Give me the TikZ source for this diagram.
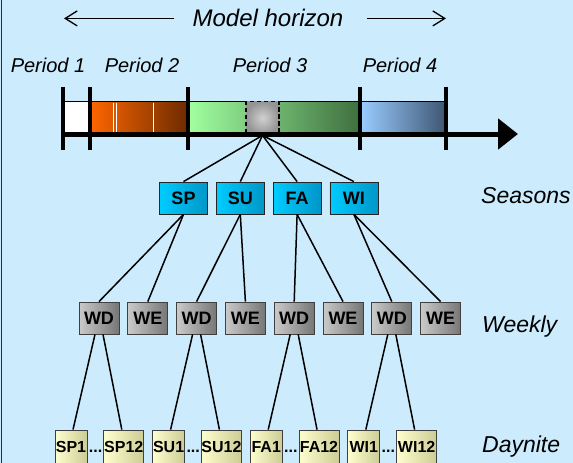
\documentclass[tikz,border=0pt]{standalone}
\usepackage{fontspec}
\setmainfont{Liberation Sans}
\usetikzlibrary{positioning,arrows.meta}

\definecolor{skyback}{RGB}{204,235,252}
\definecolor{frameline}{RGB}{30,50,70}
\definecolor{seasonleft}{RGB}{0,204,255}
\definecolor{seasonright}{RGB}{0,150,200}
\definecolor{weekleft}{RGB}{202,202,202}
\definecolor{weekright}{RGB}{118,118,118}
\definecolor{dayleft}{RGB}{255,255,206}
\definecolor{dayright}{RGB}{204,204,150}

\tikzstyle{season} = [rectangle, minimum width=48pt, minimum height=32pt,
                      inner sep=0pt,
                      draw=black!85, line width=0.8pt,
                      left color=seasonleft,
                      right color=seasonright,
                      font=\fontsize{18}{18}\selectfont\bfseries]
\tikzstyle{week} = [season, minimum width=40pt, draw=black!75,
                    left color=weekleft, right color=weekright]
\tikzstyle{dayshort} = [rectangle, minimum width=32pt, minimum height=34pt,
                        inner sep=0pt,
                        draw=black!75, line width=0.8pt,
                        left color=dayleft,
                        right color=dayright,
                        font=\fontsize{16}{16}\selectfont\bfseries]
\tikzstyle{daylong} = [dayshort, minimum width=40pt]
\tikzstyle{dots} = [inner sep=0pt, font=\fontsize{16}{16}\selectfont\bfseries]
\tikzstyle{barpart} = [rectangle, minimum height=32pt, inner sep=0pt]
\tikzstyle{slicebox} = [rectangle, minimum size=33pt, inner sep=0pt,
                        draw=black, line width=1.8pt,
                        dash pattern=on 4.5pt off 2.5pt,
                        inner color=black!18, outer color=black!42]
\tikzstyle{link} = [line width=1.5pt, black]
\tikzstyle{tick} = [line width=4pt, black]
\tikzstyle{axis} = [line width=5pt, black, -{Triangle[length=20pt,width=30pt]}]
\tikzstyle{spanarrow} = [line width=1.3pt, black, -{Straight Barb[length=12pt,width=15pt]}]
\tikzstyle{levellabel} = [anchor=base west, inner sep=0pt,
                          font=\fontsize{23}{24}\selectfont\itshape]
\tikzstyle{periodlabel} = [anchor=base, inner sep=0pt,
                           font=\fontsize{20}{20}\selectfont\itshape]

\begin{document}
\begin{tikzpicture}[x=1pt, y=-1pt]

  \useasboundingbox (0,0) rectangle (573,463);
  \clip (0,0) rectangle (573,463);
  \fill[skyback] (0,0) rectangle (573,463);
  \draw[frameline, line width=1.3pt] (1.2,0) -- (1.2,463);

  % model horizon
  \node (horizon) [anchor=base, inner sep=0pt,
    font=\fontsize{24}{24}\selectfont\itshape] at (268,27) {Model horizon};
  \coordinate (horizonleft) at (64,18);
  \coordinate (horizonright) at (446,18);
  \draw[spanarrow, shorten <=18pt] (horizon.west) -- (horizonleft |- horizon.west);
  \draw[spanarrow, shorten <=23pt] (horizon.east) -- (horizonright |- horizon.east);

  \node (period1) [periodlabel] at (48,72) {Period 1};
  \node (period2) [periodlabel] at (142,72) {Period 2};
  \node (period3) [periodlabel] at (270,72) {Period 3};
  \node (period4) [periodlabel] at (400,72) {Period 4};

  % time bar
  \node (p1) [barpart, fill=white, minimum width=27pt] at (76.5,118) {};
  \node (p2) [barpart, right=0pt of p1, minimum width=98pt,
    left color={rgb,255:red,255;green,102;blue,0},
    middle color={rgb,255:red,200;green,80;blue,0},
    right color={rgb,255:red,107;green,42;blue,0}] {};
  \node (p3) [barpart, right=0pt of p2, minimum width=172pt,
    left color={rgb,255:red,160;green,255;blue,160},
    middle color={rgb,255:red,110;green,180;blue,110},
    right color={rgb,255:red,62;green,110;blue,62}] {};
  \node (p4) [barpart, right=0pt of p3, minimum width=86pt,
    left color={rgb,255:red,153;green,204;blue,255},
    middle color={rgb,255:red,120;green,160;blue,204},
    right color={rgb,255:red,61;green,84;blue,112}] {};

  \foreach \x in {113,116,153}
    \draw[white, line width=0.8pt] (\x,102.5) -- (\x,133);
  \draw[line width=1.2pt] (p1.north west) -- (p4.north east);

  \node (slice) [slicebox] at (262.5,118) {};

  \foreach \x in {63,90,188,360,446}
    \draw[tick] (\x,87) -- (\x,150);

  \coordinate (axisstart) at (63,134);
  \coordinate (axisend) at (518,134);
  \draw[axis] (axisstart) -- (axisend);

  % seasons
  \node (sp) [season] at (183.5,198) {SP};
  \node (su) [season, right=8pt of sp] {SU};
  \node (fa) [season, right=8pt of su] {FA};
  \node (wi) [season, right=8pt of fa] {WI};

  \draw[link] (slice.south) to (sp.north);
  \draw[link] (slice.south) to (su.north);
  \draw[link] (slice.south) to (fa.north);
  \draw[link] (slice.south) to (wi.north);

  % weekly
  \node (wd1) [week] at (99,318) {WD};
  \node (we1) [week, right=8pt of wd1] {WE};
  \node (wd2) [week, right=8pt of we1] {WD};
  \node (we2) [week, right=8pt of wd2] {WE};
  \node (wd3) [week, right=8pt of we2] {WD};
  \node (we3) [week, right=8pt of wd3] {WE};
  \node (wd4) [week, right=8pt of we3] {WD};
  \node (we4) [week, right=8pt of wd4] {WE};

  \draw[link] (sp.south) to (wd1.north);
  \draw[link] (sp.south) to (we1.north);
  \draw[link] (su.south) to (wd2.north);
  \draw[link] (su.south) to (we2.north);
  \draw[link] (fa.south) to (wd3.north);
  \draw[link] (fa.south) to (we3.north);
  \draw[link] (wi.south) to (wd4.north);
  \draw[link] (wi.south) to (we4.north);

  % daynite
  \node (sp1) [dayshort] at (71,447) {SP1};
  \node (sp12) [daylong, right=16pt of sp1] {SP12};
  \node (su1) [dayshort, right=8pt of sp12] {SU1};
  \node (su12) [daylong, right=16pt of su1] {SU12};
  \node (fa1) [dayshort, right=8pt of su12] {FA1};
  \node (fa12) [daylong, right=16pt of fa1] {FA12};
  \node (wi1) [dayshort, right=8pt of fa12] {WI1};
  \node (wi12) [daylong, right=16pt of wi1] {WI12};

  \node (dotssp) [dots, right=1.3pt of sp1.base east, anchor=base west] {...};
  \node (dotssu) [dots, right=1.3pt of su1.base east, anchor=base west] {...};
  \node (dotsfa) [dots, right=1.3pt of fa1.base east, anchor=base west] {...};
  \node (dotswi) [dots, right=1.3pt of wi1.base east, anchor=base west] {...};

  \draw[link] ([xshift=-4pt]wd1.south) to ([xshift=2pt]sp1.north);
  \draw[link] ([xshift=4pt]wd1.south) to ([xshift=-2pt]sp12.north);
  \draw[link] ([xshift=-4pt]wd2.south) to ([xshift=2pt]su1.north);
  \draw[link] ([xshift=4pt]wd2.south) to ([xshift=-2pt]su12.north);
  \draw[link] ([xshift=-4pt]wd3.south) to ([xshift=2pt]fa1.north);
  \draw[link] ([xshift=4pt]wd3.south) to ([xshift=-2pt]fa12.north);
  \draw[link] ([xshift=-4pt]wd4.south) to ([xshift=2pt]wi1.north);
  \draw[link] ([xshift=4pt]wd4.south) to ([xshift=-2pt]wi12.north);

  % level names
  \node (seasons) [levellabel] at (481,203) {Seasons};
  \node (weekly) [levellabel] at (482,332) {Weekly};
  \node (daynite) [levellabel] at (482,452) {Daynite};

\end{tikzpicture}
\end{document}
